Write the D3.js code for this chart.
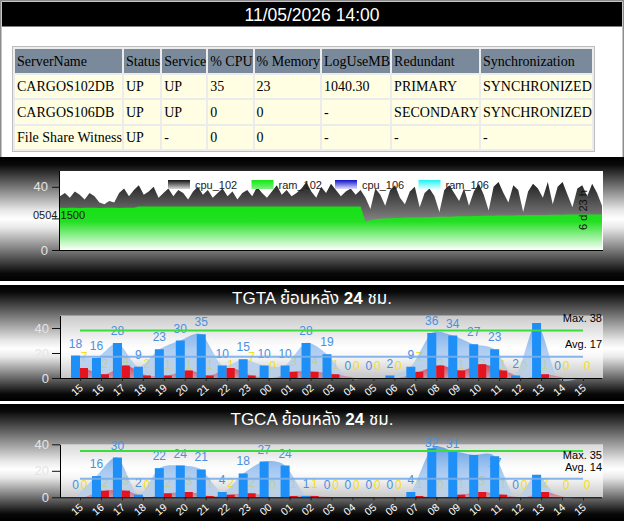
<!DOCTYPE html>
<html><head><meta charset="utf-8">
<script src="https://cdn.jsdelivr.net/npm/d3@7"></script>
<style>
html,body{margin:0;padding:0;background:#fff;width:624px;height:521px;overflow:hidden;}
#wrap{position:relative;width:624px;height:521px;}
#wrap svg{position:absolute;left:0;top:0;}
table.srv{position:absolute;left:12px;top:46px;border-collapse:separate;border-spacing:2px;border:1px solid #bdbdbd;background:#ececec;font-family:"Liberation Serif","Times New Roman",serif;font-size:14px;}
table.srv th,table.srv td{padding:2px 0 0 2px;height:21.5px;text-align:left;font-weight:normal;white-space:nowrap;color:#000;}
table.srv th{background:#7b8a9b;}
table.srv td{background:#fffee2;}
</style></head>
<body><div id="wrap"></div>
<script>
// ---------- data ----------
const pageTitle = "11/05/2026 14:00";
const tableColumns = ["ServerName","Status","Service","% CPU","% Memory","LogUseMB","Redundant","Synchronization"];
const tableRows = [
  ["CARGOS102DB","UP","UP","35","23","1040.30","PRIMARY","SYNCHRONIZED"],
  ["CARGOS106DB","UP","UP","0","0","-","SECONDARY","SYNCHRONIZED"],
  ["File Share Witness","UP","-","0","0","-","-","-"]
];
const seriesNames = ["cpu_102","ram_102","cpu_106","ram_106"];
const cpu102 = [34,36,33,37,35,32,36,34,30,29,31,30,
  36,39,34,38,41,35,37,40,33,36,39,34,38,36,32,37,40,
  35,38,33,36,39,34,37,32,36,38,34,40,36,33,37,41,35,38,34,36,39,43,37,33,40,36,42,38,34,37,39,35,38,
  33,26,39,35,28,38,41,33,29,37,40,27,36,39,34,24,38,41,36,31,39,28,37,42,35,25,40,43,36,30,41,38,24,37,42,39,33,43,29,40,43,35,27,39,41,34,42,36,28];
const ram102 = [26.7,26.6,26.7,26.7,26.6,26.7,26.7,26.7,26.6,26.7,26.7,26.7,26.6,26.7,26.7,26.7,
  27.6,27.6,27.6,27.5,27.6,27.6,27.6,27.6,27.5,27.6,27.6,27.6,27.6,27.6,27.5,27.6,27.6,27.6,27.6,27.6,27.6,27.5,27.6,27.6,27.6,27.6,27.6,27.6,27.5,27.6,27.6,27.6,27.6,27.6,27.6,27.6,27.5,27.6,27.6,27.6,27.6,27.6,27.6,27.6,27.6,27.6,
  17.9,18.8,19.4,19.8,20.0,20.1,20.2,20.3,20.4,20.5,20.6,20.6,20.7,20.8,20.9,21.0,21.0,21.1,21.2,21.3,21.3,21.4,21.5,21.5,21.6,21.7,21.7,21.8,21.8,21.9,21.9,22.0,22.0,22.1,22.1,22.2,22.2,22.2,22.3,22.3,22.3,22.4,22.4,22.4,22.5,22.5,22.5,22.5,22.5];
const resourceTicks = [0,20,40];
const startLabel = "0504 1500";
const spanLabel = "6 d 23 h";

const hours = ["15","16","17","18","19","20","21","22","23","00","01","02","03","04","05","06","07","08","09","10","11","12","13","14","15"];
const hourTicks = [0,20,40];
const tgtaTitle = ["TGTA ย้อนหลัง ","24"," ชม."];
const tgtaBlue   = [18,16,28,9,23,30,35,10,15,10,10,28,19,0,0,2,9,36,34,27,23,2,44,0,0];
const tgtaRed    = [8,3,10,2,2,6,2,8,2,0,5,5,3,0,0,0,5,10,6,11,6,0,3,0,0];
const tgtaYellow = [7,2,4,2,1,1,1,1,7,0,3,4,1,0,0,0,7,2,1,2,1,0,1,0,0];
const tgtaMax = 38, tgtaAvg = 17;
const tgcaTitle = ["TGCA ย้อนหลัง ","24"," ชม."];
const tgcaBlue   = [0,16,30,2,22,24,21,4,18,27,24,1,0,0,0,0,4,37,35,32,31,0,17,0,0];
const tgcaRed    = [0,5,5,0,3,4,1,2,3,0,1,1,0,0,0,0,1,0,2,4,2,0,4,0,0];
const tgcaYellow = [0,2,3,0,2,3,1,2,2,0,1,1,0,0,0,0,1,0,1,3,1,0,2,0,0];
const tgcaMax = 35, tgcaAvg = 14;

// ---------- drawing ----------
const W = 624, H = 521;
const SANS = 'Arial, "Liberation Sans", "Noto Sans Thai", "Noto Sans", sans-serif';
const wrap = d3.select('#wrap');
const svg = wrap.append('svg').attr('width', W).attr('height', H);
const defs = svg.append('defs');

function vGrad(id, stops, user){
  const g = defs.append('linearGradient').attr('id', id);
  if (user) g.attr('gradientUnits','userSpaceOnUse').attr('x1',0).attr('x2',0).attr('y1',user[0]).attr('y2',user[1]);
  else g.attr('x1',0).attr('y1',0).attr('x2',0).attr('y2',1);
  stops.forEach(s => g.append('stop').attr('offset', s[0]).attr('stop-color', s[1]).attr('stop-opacity', s[2] == null ? 1 : s[2]));
}
function metal(id, c){
  vGrad(id, [[0,'#000'],[0.06,'#080808'],[c-0.07,'#e8e8e8'],[c,'#ffffff'],[c+0.07,'#e8e8e8'],[0.94,'#080808'],[1,'#000']]);
}

// page frame + title
svg.append('rect').attr('x',0.75).attr('y',0.75).attr('width',622.5).attr('height',157).attr('fill','#fff').attr('stroke','#8c8c8c').attr('stroke-width',1.5);
svg.append('rect').attr('x',2).attr('y',2).attr('width',620).attr('height',24.5).attr('fill','#000');
svg.append('text').attr('x',312).attr('y',20.8).attr('text-anchor','middle').attr('fill','#fff')
  .style('font-family',SANS).style('font-size','17.5px').text(pageTitle);

// table
const tbl = wrap.append('table').attr('class','srv');
tbl.append('tr').selectAll('th').data(tableColumns).join('th').text(d => d);
tbl.selectAll('tr.r').data(tableRows).join('tr').attr('class','r')
  .selectAll('td').data(d => d).join('td').text(d => d);

// ---------- panel 1 : resources ----------
metal('mg1', 0.5);
svg.append('rect').attr('x',0).attr('y',157).attr('width',W).attr('height',124).attr('fill','url(#mg1)');
const p1 = {l:59, r:603, t:171, b:250};
svg.append('rect').attr('x',p1.l).attr('y',p1.t).attr('width',p1.r-p1.l).attr('height',p1.b-p1.t).attr('fill','#fff');
const yR = d3.scaleLinear().domain([0,50]).range([p1.b, p1.t]);
const xCpu = d3.scaleLinear().domain([0, cpu102.length-1]).range([p1.l+1, p1.r-1]);
const xRam = d3.scaleLinear().domain([0, ram102.length-1]).range([p1.l+1, p1.r-1]);
vGrad('cpuFill', [[0,'#1c1c1c'],[0.45,'#6a6a6a'],[1,'#d4d4d4']], [180, 250]);
vGrad('ramFill', [[0,'#14e214'],[0.35,'#22df22'],[1,'#fbfffb']], [206, 250]);
svg.append('path').datum(cpu102).attr('fill','url(#cpuFill)')
  .attr('d', d3.area().x((d,i)=>xCpu(i)).y0(yR(0)).y1(d=>yR(d)));
svg.append('path').datum(ram102).attr('fill','url(#ramFill)')
  .attr('d', d3.area().x((d,i)=>xRam(i)).y0(yR(0)).y1(d=>yR(d)));

// legend
const legGrads = [['#111','#d8d8d8'],['#12e812','#7ff07f'],['#1010c8','#e0e0ff'],['#20f2f2','#e0ffff']];
seriesNames.forEach((n,i) => {
  vGrad('lg'+i, [[0,legGrads[i][0]],[1,legGrads[i][1]]]);
  const lx = 168 + i*83.5;
  svg.append('rect').attr('x',lx).attr('y',180).attr('width',22).attr('height',9).attr('fill','url(#lg'+i+')');
  svg.append('text').attr('x',lx+27).attr('y',188.5).attr('fill','#222').style('font-family',SANS).style('font-size','11px').text(n);
});

// axes panel 1
const ax1 = svg.append('g').attr('transform',`translate(${p1.l},0)`)
  .call(d3.axisLeft(yR).tickValues(resourceTicks).tickSize(7).tickSizeOuter(0).tickFormat(d => d===20 ? '' : d));
ax1.select('.domain').attr('stroke','#000').attr('d',`M0.5,${p1.t}V${p1.b}`);
ax1.selectAll('.tick line').attr('stroke','#111');
ax1.selectAll('.tick text').attr('fill','#e4e4e4').attr('x',-11).style('font-family',SANS).style('font-size','13px');
const bx1 = svg.append('g').attr('transform',`translate(0,${p1.b})`)
  .call(d3.axisBottom(xCpu).tickValues([]).tickSizeOuter(0));
bx1.select('.domain').attr('stroke','#000').attr('d',`M${p1.l},0.5H${p1.r}`);
svg.append('text').attr('x',33).attr('y',219).attr('fill','#1a1a1a').style('font-family',SANS).style('font-size','11px').text(startLabel);
svg.append('text').attr('transform','translate(587,210) rotate(-90)').attr('text-anchor','middle')
  .attr('fill','#111').style('font-family',SANS).style('font-size','11px').text(spanLabel);

// ---------- hour panels ----------
const xH = d3.scalePoint().domain(d3.range(hours.length)).range([80,583]);
function hourPanel(p){
  const g = svg.append('g');
  metal(p.id+'bg', p.c);
  g.append('rect').attr('x',0).attr('y',p.top).attr('width',W).attr('height',p.h).attr('fill',`url(#${p.id}bg)`);
  const y = d3.scaleLinear().domain([0,p.yMax]).range([p.y0, p.yTop]);
  g.append('rect').attr('x',60).attr('y',p.yTop).attr('width',543).attr('height',p.y0-p.yTop).attr('fill','#fff').attr('fill-opacity',0.62);

  const tt = g.append('text').attr('x',312).attr('y',p.titleY).attr('text-anchor','middle').attr('fill','#fff')
    .style('font-family',SANS).style('font-size','17px');
  p.title.forEach((s,i) => tt.append('tspan').style('font-weight', i===1 ? 'bold' : 'normal').text(s));

  // value labels (under the translucent areas)
  g.append('g').selectAll('text').data(p.blue).join('text')
    .filter(d => y(d)-12 >= p.yTop-2)
    .attr('x',(d,i)=>xH(i)-4.5).attr('y',d=>y(d)-8).attr('text-anchor','middle')
    .attr('fill','#4a8fe0').style('font-family',SANS).style('font-size','12px').text(d=>d);
  g.append('g').selectAll('text').data(p.yellow).join('text')
    .attr('x',(d,i)=>xH(i)+4).attr('y',d=>y(d)-8).attr('text-anchor','middle')
    .attr('fill','#f4de1c').style('font-family',SANS).style('font-size','12px').text(d=>d);

  // spline areas
  vGrad(p.id+'ba', [[0,'#4f93e6',0.85],[1,'#b4d2f4',0.55]], [p.yTop, p.y0]);
  vGrad(p.id+'ra', [[0,'#e0202e',0.8],[1,'#e0202e',0.3]], [p.y0-14, p.y0]);
  const cur = d3.curveCardinal.tension(0.2);
  g.append('path').datum(p.blue).attr('fill',`url(#${p.id}ba)`)
    .attr('d', d3.area().curve(cur).x((d,i)=>xH(i)-4.5).y0(p.y0).y1(d=>Math.min(y(d), p.y0)));
  g.append('path').datum(p.red).attr('fill',`url(#${p.id}ra)`)
    .attr('d', d3.area().curve(cur).x((d,i)=>xH(i)+4).y0(p.y0).y1(d=>Math.min(y(d), p.y0)));

  // bars
  g.append('g').selectAll('rect').data(p.blue).join('rect')
    .attr('x',(d,i)=>xH(i)-9).attr('width',9).attr('y',d=>y(d)).attr('height',d=>p.y0-y(d)).attr('fill','#1e8ff6');
  g.append('g').selectAll('rect').data(p.red).join('rect')
    .attr('x',(d,i)=>xH(i)).attr('width',8).attr('y',d=>y(d)).attr('height',d=>p.y0-y(d)).attr('fill','#e3141f');

  // axes
  const ya = g.append('g').attr('transform','translate(60,0)')
    .call(d3.axisLeft(y).tickValues(hourTicks).tickSize(8).tickSizeOuter(0));
  ya.select('.domain').attr('stroke','#000');
  ya.selectAll('.tick line').attr('stroke','#111');
  ya.selectAll('.tick text').attr('fill','#e4e4e4').attr('x',-11).style('font-family',SANS).style('font-size','13px');
  const xa = g.append('g').attr('transform',`translate(0,${p.y0})`)
    .call(d3.axisBottom(xH).tickSize(3).tickSizeOuter(0).tickFormat(i => hours[i]));
  xa.select('.domain').attr('stroke','#000').attr('d','M60,0.5H602');
  xa.selectAll('.tick line').attr('stroke','#222');
  xa.selectAll('.tick text').attr('fill','#fff').attr('x',0).attr('y',0).attr('dy','0.35em')
    .attr('text-anchor','middle').attr('transform','translate(-3.5,12) rotate(-40)')
    .style('font-family',SANS).style('font-size','10.5px');

  // max / avg lines with labels (above the line unless it would leave the plot)
  const refs = [[p.max,'Max. ','#3ddc3d',1],[p.avg,'Avg. ','#78ade8',0.9]].map(([v,lab,col,op]) => {
    const ly = y(v);
    g.append('line').attr('x1',80).attr('x2',583).attr('y1',ly).attr('y2',ly)
      .attr('stroke',col).attr('stroke-width',2).attr('stroke-opacity',op);
    const above = (ly - 12.5) >= p.yTop;
    return {text: lab + v, by: above ? ly-8.5 : ly+9};
  });
  const gap = refs[1].by - refs[0].by;
  if (Math.abs(gap) < 12.5){ const push = (12.5 - Math.abs(gap))/2; refs[0].by -= push; refs[1].by += push; }
  refs.forEach(r => g.append('text').attr('x',602).attr('y',r.by).attr('text-anchor','end')
      .attr('fill','#000').style('font-family',SANS).style('font-size','11px').text(r.text));
}

hourPanel({id:'ta', top:285, h:116, c:0.55, titleY:303.5, title:tgtaTitle, yMax:50, y0:378, yTop:315.5,
  blue:tgtaBlue, red:tgtaRed, yellow:tgtaYellow, max:tgtaMax, avg:tgtaAvg});
hourPanel({id:'ca', top:404, h:117, c:0.56, titleY:424.5, title:tgcaTitle, yMax:40, y0:497.3, yTop:444.3,
  blue:tgcaBlue, red:tgcaRed, yellow:tgcaYellow, max:tgcaMax, avg:tgcaAvg});
</script></body></html>
